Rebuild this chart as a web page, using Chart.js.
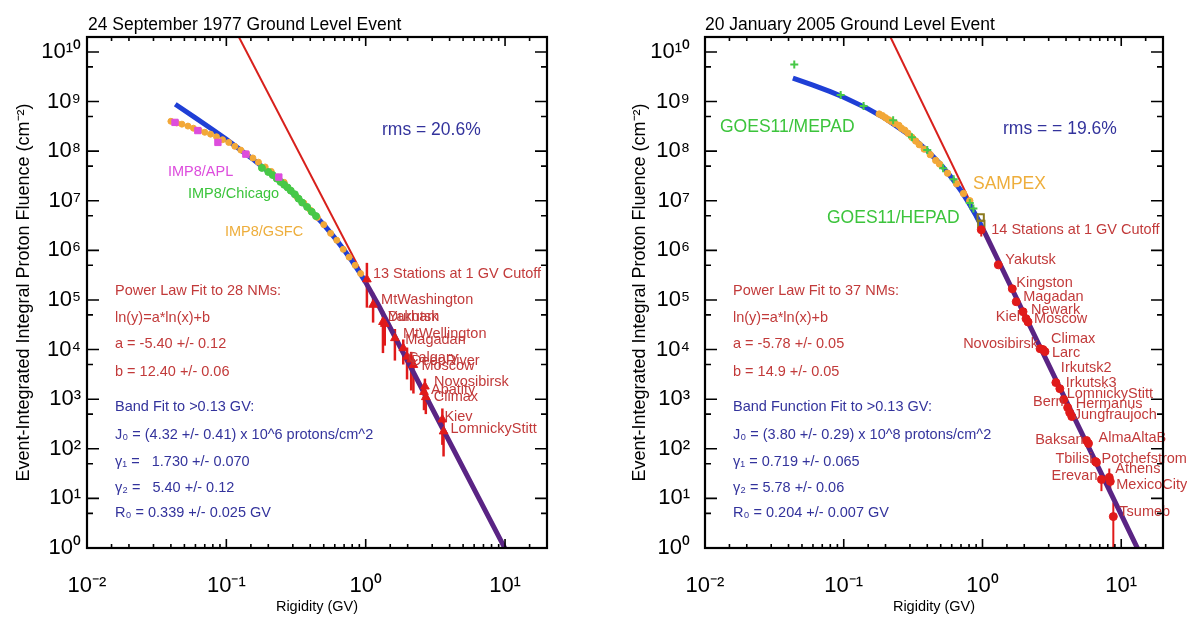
<!DOCTYPE html>
<html>
<head>
<meta charset="utf-8">
<title>Ground Level Events</title>
<script src="https://cdn.jsdelivr.net/npm/chart.js@4.4.1/dist/chart.umd.min.js"></script>
<style>
  html, body { margin:0; padding:0; background:#ffffff; }
  body { width:1187px; height:617px; position:relative; overflow:hidden; }
  canvas { position:absolute; top:0; }
  #left { left:0; }
  #right { left:600px; }
</style>
</head>
<body>
<canvas id="left" width="600" height="617"></canvas>
<canvas id="right" width="587" height="617"></canvas>
<script>
const FONT = "'Liberation Sans', Arial, Helvetica, sans-serif";

// ---------- shared axis ticks ----------
const xTickValues = [0.01,0.015,0.02,0.03,0.04,0.05,0.06,0.07,0.08,0.09,0.1,0.15,0.2,0.3,0.4,0.5,0.6,0.7,0.8,0.9,1,1.5,2,3,4,5,6,7,8,9,10,15];
const xMajorValues = [0.01,0.1,1,10];
const xMajorLabels = ['10\u207B\u00B2','10\u207B\u00B9','10\u2070','10\u00B9'];
const yTickValues = [1,5,10,50,100,500,1e3,5e3,1e4,5e4,1e5,5e5,1e6,5e6,1e7,5e7,1e8,5e8,1e9,5e9,1e10];
const yMajorValues = [1,10,100,1e3,1e4,1e5,1e6,1e7,1e8,1e9,1e10];
const yMajorLabels = ['10\u2070','10\u00B9','10\u00B2','10\u00B3','10\u2074','10\u2075','10\u2076','10\u2077','10\u2078','10\u2079','10\u00B9\u2070'];

// ---------- left panel: 24 September 1977 ----------
const l_powerX = [0.123, 10.0];
const l_powerY = [2.0e10, 0.98];
const l_bandX = [0.043,0.06,0.08,0.1,0.15,0.2,0.3,0.4,0.5,0.6,0.7,0.8,0.9,1.0,1.244,10.0];
const l_bandY = [8.8e8,4.7e8,2.7e8,1.73e8,7.4e7,3.9e7,1.43e7,6.5e6,3.3e6,1.78e6,1.02e6,6.0e5,3.64e5,2.26e5,7.56e4,0.975];
const l_gsfcX = [0.040,0.044,0.048,0.053,0.058,0.064,0.07,0.077,0.085,0.094,0.104,0.115,0.127,0.14,0.155,0.17,0.19,0.21,0.235,0.26,0.29,0.32,0.36,0.40,0.45,0.5,0.56,0.62,0.69,0.76,0.84,0.92];
const l_gsfcY = [4.0e8,3.7e8,3.5e8,3.2e8,2.9e8,2.6e8,2.4e8,2.2e8,1.95e8,1.7e8,1.5e8,1.25e8,1.05e8,8.8e7,7.3e7,6.0e7,4.8e7,3.9e7,3.0e7,2.35e7,1.6e7,1.2e7,9.0e6,6.5e6,4.6e6,3.3e6,2.2e6,1.6e6,1.05e6,7.3e5,5.0e5,3.4e5];
const l_chicagoX = [0.18,0.2,0.215,0.23,0.245,0.26,0.275,0.29,0.31,0.33,0.35,0.38,0.41,0.44];
const l_chicagoY = [4.6e7,3.8e7,3.3e7,2.8e7,2.4e7,2.1e7,1.85e7,1.6e7,1.35e7,1.1e7,9.2e6,7.5e6,6.0e6,4.9e6];
const l_aplX = [0.0428,0.0624,0.087,0.138,0.238];
const l_aplY = [3.8e8,2.6e8,1.5e8,8.7e7,3.0e7];
const l_nmNames = ['13 Stations at 1 GV Cutoff','MtWashington','Yakutsk','Durham','MtWellington','Magadan','Calgary','DeepRiver','Moscow','Novosibirsk','Apatity','Climax','Kiev','LomnickyStitt'];
const l_nmX  = [1.02,1.13,1.33,1.37,1.62,1.86,1.98,2.12,2.2,2.66,2.62,2.7,3.55,3.62];
const l_nmY  = [2.6e5,8e4,3.6e4,3.3e4,1.7e4,1.07e4,7.2e3,6.3e3,4.9e3,1.8e3,1.4e3,1.1e3,390,224];
const l_nmLo = [7e4,3.5e4,8.5e3,1.2e4,6e3,5e3,2.5e3,1.5e3,1.3e3,900,600,500,120,70];
const l_nmHi = [5.6e5,1.4e5,6e4,5e4,2.6e4,1.6e4,1.1e4,9e3,6.5e3,2.6e3,2e3,1.5e3,650,350];
// label placement (pixels from marker)
const l_lblDx = [6,8,5,3,8,2,1,0,8,9,7,8,2,7];
const l_lblDy = [-5,-5,-5,-7,-4,-8,1,1,1,-5,-2,0,-2,-2];

// ---------- right panel: 20 January 2005 ----------
const r_powerX = [0.217, 13.2];
const r_powerY = [2.0e10, 0.99];
const r_bandX = [0.043,0.06,0.08,0.1,0.15,0.2,0.3,0.4,0.5,0.6,0.7,0.8,0.9,1.03,2,5,10,13.1];
const r_bandY = [2.96e9,2.14e9,1.58e9,1.22e9,7.12e8,4.53e8,2.07e8,1.03e8,5.39e7,2.9e7,1.59e7,8.83e6,4.97e6,2.38e6,5.16e4,258,4.7,0.98];
const r_mepadX = [0.044,0.095,0.139,0.227,0.31,0.40,0.52,0.62,0.81,0.86];
const r_mepadY = [5.6e9,1.35e9,8.1e8,4.2e8,1.9e8,1.05e8,4.5e7,2.7e7,9e6,7e6];
const r_sampexX = [0.18,0.19,0.2,0.21,0.22,0.235,0.25,0.26,0.275,0.29,0.31,0.33,0.35,0.38,0.42,0.46,0.49,0.56,0.65,0.73,0.81];
const r_sampexY = [5.6e8,5.2e8,4.7e8,4.3e8,4.0e8,3.6e8,3.3e8,2.9e8,2.65e8,2.3e8,1.9e8,1.6e8,1.35e8,1.1e8,8.5e7,6.5e7,5.5e7,3.6e7,2.2e7,1.4e7,1.0e7];
const r_hepadX = [0.97,0.98];
const r_hepadY = [4.6e6,3.4e6];
const r_nmNames = ['14 Stations at 1 GV Cutoff','Yakutsk','Kingston','Magadan','Newark','Kiel','Moscow','Novosibirsk','Climax','Larc','Irkutsk2','Irkutsk3','LomnickyStitt','Bern','Hermanus','Jungfraujoch','Baksan','AlmaAltaB','Tbilisi','Potchefstrom','Erevan','Athens','MexicoCity','Tsumeb'];
const r_nmX  = [0.98,1.30,1.64,1.75,1.96,2.06,2.13,2.6,2.73,2.82,3.38,3.61,3.85,4.11,4.25,4.40,5.62,5.81,6.52,6.63,7.2,8.2,8.34,8.77];
const r_nmY  = [2.6e6,5.1e5,1.68e5,9.2e4,5.8e4,4.2e4,3.6e4,1.04e4,1.0e4,9.1e3,2.16e3,1.63e3,982,678,537,447,147,128,55.5,53,24.1,26.5,22,4.3];
const r_nmLo = [1.9e6,null,null,null,null,null,null,null,null,null,null,null,null,null,null,null,null,null,null,null,14,16,14,0.3];
const r_nmHi = [3.6e6,null,null,null,null,null,null,null,null,null,null,null,null,null,null,null,null,null,null,null,34,40,30,8.3];
const r_lblDx = [10,7,4,7,8,-6,6,-2,8,7,5,6,3,-4,6,2,-3,10,-3,5,-4,6,6,6];
const r_lblDy = [0,-5,-6,-5,-2,-2,-3,-5,-11,1,-15,-6,-6,-6,-9,-2,0,-5,-2,-3,-3,-8,4,-5];

// ---------- colours ----------
const BLUE = '#1f3fd6', PURPLE = '#5a2484', RED = '#d8201c', NMRED = '#e01a1a';
const ORANGE = '#f2a838', GREEN = '#47c847', MAGENTA = '#dd4ddd', OLIVE = '#8c7a1e';
const TXT_RED = '#c23a3a', TXT_BLUE = '#33339c', TXT_GREEN = '#3cc43c', TXT_ORANGE = '#eeae3c';

function pts(xs, ys) { return xs.map((x, i) => ({x: x, y: ys[i]})); }
function sameLog(a, b) { return Math.abs(Math.log10(a) - Math.log10(b)) < 1e-6; }
function isMajor(v, majors) { return majors.some(m => sameLog(v, m)); }
function majorLabel(v, majors, labels) {
  const i = majors.findIndex(m => sameLog(v, m));
  return i >= 0 ? labels[i] : '';
}

// inward tick marks on all four sides + box
const framePlugin = {
  id: 'frame',
  afterDraw(chart) {
    const {ctx, chartArea: a, scales: {x, y}} = chart;
    ctx.save();
    ctx.strokeStyle = '#000';
    ctx.lineWidth = 1.6;
    ctx.beginPath();
    x.ticks.forEach(t => {
      const p = x.getPixelForValue(t.value);
      const L = isMajor(t.value, xMajorValues) ? 9 : 4;
      ctx.moveTo(p, a.bottom); ctx.lineTo(p, a.bottom - L);
      ctx.moveTo(p, a.top); ctx.lineTo(p, a.top + L);
    });
    y.ticks.forEach(t => {
      const p = y.getPixelForValue(t.value);
      const L = isMajor(t.value, yMajorValues) ? 12 : 6;
      ctx.moveTo(a.left, p); ctx.lineTo(a.left + L, p);
      ctx.moveTo(a.right, p); ctx.lineTo(a.right - L, p);
    });
    ctx.stroke();
    ctx.lineWidth = 2.2;
    ctx.strokeRect(a.left, a.top, a.right - a.left, a.bottom - a.top);
    ctx.restore();
  }
};

// neutron-monitor error bars and station names
const nmPlugin = {
  id: 'nm',
  beforeDatasetsDraw(chart, args, o) {
    const {ctx, chartArea: a, scales: {x, y}} = chart;
    ctx.save();
    ctx.beginPath(); ctx.rect(a.left, a.top, a.right - a.left, a.bottom - a.top); ctx.clip();
    ctx.strokeStyle = o.color; ctx.lineWidth = o.barWidth;
    o.xs.forEach((xv, i) => {
      if (o.lo[i] == null) return;
      const px = x.getPixelForValue(xv);
      ctx.beginPath();
      ctx.moveTo(px, y.getPixelForValue(o.lo[i]));
      ctx.lineTo(px, y.getPixelForValue(o.hi[i]));
      ctx.stroke();
    });
    ctx.restore();
  },
  afterDatasetsDraw(chart, args, o) {
    const {ctx, scales: {x, y}} = chart;
    ctx.save();
    ctx.font = o.fontSize + 'px ' + FONT;
    ctx.fillStyle = o.textColor;
    ctx.textBaseline = 'middle';
    o.names.forEach((n, i) => {
      const px = x.getPixelForValue(o.xs[i]);
      const py = y.getPixelForValue(o.ys[i]);
      ctx.textAlign = o.dx[i] < 0 ? 'right' : 'left';
      ctx.fillText(n, px + o.dx[i], py + o.dy[i]);
    });
    ctx.restore();
  }
};

// free text annotations
const notesPlugin = {
  id: 'notes',
  afterDraw(chart, args, o) {
    const ctx = chart.ctx;
    ctx.save();
    o.items.forEach(it => {
      ctx.font = it.s + 'px ' + FONT;
      ctx.fillStyle = it.c;
      ctx.textAlign = 'left';
      ctx.textBaseline = it.b || 'middle';
      ctx.fillText(it.t, it.x, it.y);
    });
    ctx.restore();
  }
};

function makeChart(id, c) {
  return new Chart(document.getElementById(id), {
    type: 'line',
    data: { datasets: c.datasets },
    options: {
      responsive: false,
      animation: false,
      devicePixelRatio: 1,
      layout: { padding: { left: 0, top: 37, right: c.padRight, bottom: 0 } },
      plugins: {
        legend: { display: false },
        tooltip: { enabled: false },
        nm: c.nm,
        notes: { items: c.notes }
      },
      scales: {
        x: {
          type: 'logarithmic', min: 0.01, max: 20,
          afterBuildTicks: s => { s.ticks = xTickValues.map(v => ({ value: v })); },
          afterFit: s => { s.height = 69; },
          grid: { display: false, drawTicks: false },
          border: { display: false },
          ticks: {
            autoSkip: false, maxRotation: 0, minRotation: 0, padding: 25,
            color: '#000', font: { family: FONT, size: 22 },
            callback: v => majorLabel(v, xMajorValues, xMajorLabels)
          },
          title: { display: true, text: 'Rigidity (GV)', color: '#000',
                   font: { family: FONT, size: 14.5 }, padding: { top: 0, bottom: 1 } }
        },
        y: {
          type: 'logarithmic', min: 1, max: 2e10,
          afterBuildTicks: s => { s.ticks = yTickValues.map(v => ({ value: v })); },
          afterFit: s => { s.width = c.yWidth; },
          grid: { display: false, drawTicks: false },
          border: { display: false },
          ticks: {
            autoSkip: false, padding: c.yTickPad,
            color: '#000', font: { family: FONT, size: 22 },
            callback: v => majorLabel(v, yMajorValues, yMajorLabels)
          },
          title: { display: true, text: 'Event-Integrated Integral Proton Fluence (cm\u207B\u00B2)',
                   color: '#000', font: { family: FONT, size: 18 },
                   padding: { top: c.yTitlePad, bottom: 0 } }
        }
      }
    },
    plugins: [framePlugin, nmPlugin, notesPlugin]
  });
}

const lineDs = (data, color, width, order, extra) => Object.assign({
  data: data, borderColor: color, borderWidth: width, pointRadius: 0,
  fill: false, tension: 0, order: order
}, extra || {});
const dotDs = (data, color, style, radius, order, extra) => Object.assign({
  data: data, showLine: false, pointStyle: style, pointRadius: radius,
  backgroundColor: color, borderColor: color, borderWidth: 1, order: order
}, extra || {});

const bandSegment = { borderColor: s => (s.p0.parsed.x >= 0.99 ? PURPLE : BLUE) };

// ----- left chart -----
makeChart('left', {
  padRight: 53, yWidth: 87, yTickPad: 6, yTitlePad: 13,
  datasets: [
    lineDs(pts(l_powerX, l_powerY), RED, 2, 7),
    lineDs(pts(l_bandX, l_bandY), BLUE, 5, 6, { segment: bandSegment }),
    dotDs(pts(l_gsfcX, l_gsfcY), ORANGE, 'circle', 3, 5),
    dotDs(pts(l_chicagoX, l_chicagoY), GREEN, 'circle', 3.5, 4),
    dotDs(pts(l_aplX, l_aplY), MAGENTA, 'rect', 4.5, 3),
    dotDs(pts(l_nmX, l_nmY), NMRED, 'triangle', 5, 1)
  ],
  nm: { xs: l_nmX, ys: l_nmY, lo: l_nmLo, hi: l_nmHi, names: l_nmNames,
        dx: l_lblDx, dy: l_lblDy, color: NMRED, barWidth: 2.5, textColor: TXT_RED, fontSize: 14.5 },
  notes: [
    { t: '24 September 1977 Ground Level Event', x: 88, y: 30, s: 17.5, c: '#000', b: 'alphabetic' },
    { t: 'rms = 20.6%', x: 382, y: 130, s: 17.5, c: TXT_BLUE },
    { t: 'IMP8/APL', x: 168, y: 172, s: 14.5, c: MAGENTA },
    { t: 'IMP8/Chicago', x: 188, y: 194, s: 14.5, c: TXT_GREEN },
    { t: 'IMP8/GSFC', x: 225, y: 232, s: 14.5, c: TXT_ORANGE },
    { t: 'Power Law Fit to 28 NMs:', x: 115, y: 291, s: 14.5, c: TXT_RED },
    { t: 'ln(y)=a*ln(x)+b', x: 115, y: 318, s: 14.5, c: TXT_RED },
    { t: 'a = -5.40 +/- 0.12', x: 115, y: 344, s: 14.5, c: TXT_RED },
    { t: 'b = 12.40 +/- 0.06', x: 115, y: 372, s: 14.5, c: TXT_RED },
    { t: 'Band Fit to >0.13 GV:', x: 115, y: 407, s: 14.5, c: TXT_BLUE },
    { t: 'J\u2080 = (4.32 +/- 0.41) x 10^6 protons/cm^2', x: 115, y: 435, s: 14.5, c: TXT_BLUE },
    { t: '\u03B3\u2081 =   1.730 +/- 0.070', x: 115, y: 462, s: 14.5, c: TXT_BLUE },
    { t: '\u03B3\u2082 =   5.40 +/- 0.12', x: 115, y: 488, s: 14.5, c: TXT_BLUE },
    { t: 'R\u2080 = 0.339 +/- 0.025 GV', x: 115, y: 513, s: 14.5, c: TXT_BLUE }
  ]
});

// ----- right chart -----
makeChart('right', {
  padRight: 24, yWidth: 105, yTickPad: 15, yTitlePad: 29,
  datasets: [
    lineDs(pts(r_powerX, r_powerY), RED, 2, 7),
    lineDs(pts(r_bandX, r_bandY), BLUE, 5, 6, { segment: bandSegment }),
    dotDs(pts(r_sampexX, r_sampexY), ORANGE, 'circle', 3.2, 5),
    dotDs(pts(r_mepadX, r_mepadY), GREEN, 'cross', 4, 4, { borderWidth: 2 }),
    dotDs(pts(r_hepadX, r_hepadY), 'rgba(0,0,0,0)', 'rect', 4.5, 3, { borderColor: OLIVE, borderWidth: 2 }),
    dotDs(pts(r_nmX, r_nmY), NMRED, 'circle', 4, 1)
  ],
  nm: { xs: r_nmX, ys: r_nmY, lo: r_nmLo, hi: r_nmHi, names: r_nmNames,
        dx: r_lblDx, dy: r_lblDy, color: NMRED, barWidth: 2, textColor: TXT_RED, fontSize: 14.5 },
  notes: [
    { t: '20 January 2005 Ground Level Event', x: 105, y: 30, s: 17.5, c: '#000', b: 'alphabetic' },
    { t: 'rms = = 19.6%', x: 403, y: 129, s: 17.5, c: TXT_BLUE },
    { t: 'GOES11/MEPAD', x: 120, y: 127, s: 17.5, c: TXT_GREEN },
    { t: 'GOES11/HEPAD', x: 227, y: 218, s: 17.5, c: TXT_GREEN },
    { t: 'SAMPEX', x: 373, y: 184, s: 17.5, c: TXT_ORANGE },
    { t: 'Power Law Fit to 37 NMs:', x: 133, y: 291, s: 14.5, c: TXT_RED },
    { t: 'ln(y)=a*ln(x)+b', x: 133, y: 318, s: 14.5, c: TXT_RED },
    { t: 'a = -5.78 +/- 0.05', x: 133, y: 344, s: 14.5, c: TXT_RED },
    { t: 'b = 14.9 +/- 0.05', x: 133, y: 372, s: 14.5, c: TXT_RED },
    { t: 'Band Function Fit to >0.13 GV:', x: 133, y: 407, s: 14.5, c: TXT_BLUE },
    { t: 'J\u2080 = (3.80 +/- 0.29) x 10^8 protons/cm^2', x: 133, y: 435, s: 14.5, c: TXT_BLUE },
    { t: '\u03B3\u2081 = 0.719 +/- 0.065', x: 133, y: 462, s: 14.5, c: TXT_BLUE },
    { t: '\u03B3\u2082 = 5.78 +/- 0.06', x: 133, y: 488, s: 14.5, c: TXT_BLUE },
    { t: 'R\u2080 = 0.204 +/- 0.007 GV', x: 133, y: 513, s: 14.5, c: TXT_BLUE }
  ]
});
</script>
</body>
</html>
